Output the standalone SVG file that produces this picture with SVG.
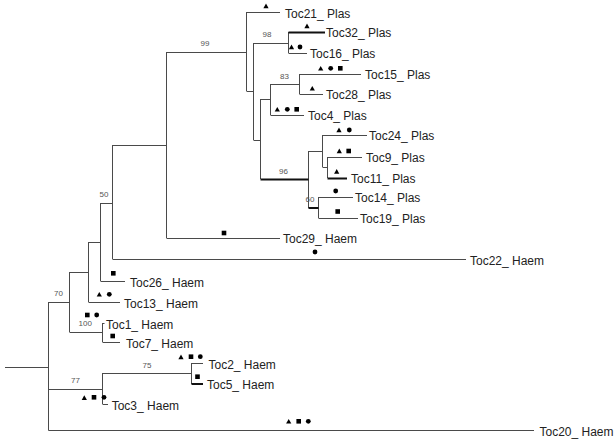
<svg xmlns="http://www.w3.org/2000/svg" width="616" height="441" viewBox="0 0 616 441">
<defs>
<style>
.e{fill:none;stroke:#4a4a4a;stroke-width:1}
.t{fill:none;stroke:#111;stroke-width:2}
.lab{font-family:"Liberation Sans",Arial,sans-serif;font-size:12px;fill:#222}
.bs{font-family:"Liberation Sans",Arial,sans-serif;font-size:8px;fill:#555;text-anchor:middle}
.m{fill:#000}
</style>
<path id="tri" class="m" d="M-2.6,2.2 L2.6,2.2 L0,-2.4 Z"/>
<rect id="sq" class="m" x="-2.3" y="-2.3" width="4.6" height="4.6"/>
<circle id="ci" class="m" r="2.4"/>
</defs>
<rect width="616" height="441" fill="#fff"/>
<g id="connectors">
<path class="e" d="M5,367.5H48.5 M48.5,302V430.5 M48.5,302.5H69.5 M69.5,272V332 M69.5,272.5H88.5 M88.5,242V302 M88.5,242.5H100.5 M100.5,203V281 M100.5,203.5H112.5 M112.5,145V259 M112.5,145.5H166.5 M166.5,52V238 M166.5,52.5H246.5 M246.5,12V91 M246.5,12.5H280 M246.5,91.5H253.5 M253.5,43V140 M253.5,43.5H288.5 M288.5,32V53 M288.5,53.5H307 M253.5,140.5H260.5 M260.5,99V179 M260.5,99.5H270.5 M270.5,84V115 M270.5,84.5H299.5 M299.5,74V94 M299.5,74.5H361 M299.5,94.5H323 M270.5,115.5H304 M308.5,151V208 M308.5,151.5H322.5 M322.5,135V167 M322.5,135.5H367 M322.5,167.5H327.5 M327.5,157V178 M327.5,157.5H362 M318.5,197V218 M318.5,197.5H353 M318.5,218.5H358 M166.5,238.5H280 M112.5,259.5H466 M100.5,281.5H125 M88.5,302.5H120 M69.5,332.5H102.5 M102.5,323V342 M102.5,323.5H104.5 M102.5,342.5H120 M48.5,389.5H102.5 M102.5,373V404 M102.5,373.5H191.5 M191.5,363V384 M191.5,363.5H203 M102.5,404.5H108 M48.5,430.5H534"/>
<path class="t" d="M288.5,32.5H325 M260.5,179.5H308.5 M327.5,178.5H347 M308.5,208H318.5 M191.5,384H203"/>
</g>
<g id="support">
<text class="bs" x="205" y="46">99</text>
<text class="bs" x="267" y="37">98</text>
<text class="bs" x="284.5" y="78.5">83</text>
<text class="bs" x="283.5" y="174">96</text>
<text class="bs" x="310" y="202">60</text>
<text class="bs" x="104" y="197">50</text>
<text class="bs" x="58.5" y="296">70</text>
<text class="bs" x="85.3" y="326">100</text>
<text class="bs" x="147" y="368">75</text>
<text class="bs" x="75.5" y="382.5">77</text>
</g>
<g id="Toc21"><use href="#tri" x="266" y="6"/><text class="lab" x="285" y="17.5">Toc21_ Plas</text></g>
<g id="Toc32"><use href="#tri" x="307" y="26"/><text class="lab" x="326" y="37">Toc32_ Plas</text></g>
<g id="Toc16"><use href="#tri" x="291.5" y="47"/><use href="#ci" x="300" y="47"/><text class="lab" x="310" y="58">Toc16_ Plas</text></g>
<g id="Toc15"><use href="#tri" x="320.7" y="68.3"/><use href="#ci" x="330.7" y="68.3"/><use href="#sq" x="340.3" y="68.3"/><text class="lab" x="365" y="79">Toc15_ Plas</text></g>
<g id="Toc28"><use href="#tri" x="312.3" y="88.3"/><text class="lab" x="326" y="99">Toc28_ Plas</text></g>
<g id="Toc4"><use href="#tri" x="277.3" y="109.3"/><use href="#ci" x="287.3" y="109.3"/><use href="#sq" x="296.7" y="109.3"/><text class="lab" x="308" y="120">Toc4_ Plas</text></g>
<g id="Toc24"><use href="#tri" x="339" y="130"/><use href="#ci" x="349.3" y="130"/><text class="lab" x="369" y="140">Toc24_ Plas</text></g>
<g id="Toc9"><use href="#tri" x="339.3" y="151"/><use href="#sq" x="348.7" y="151"/><text class="lab" x="366" y="162">Toc9_ Plas</text></g>
<g id="Toc11"><use href="#tri" x="336.7" y="171.5"/><text class="lab" x="351" y="183">Toc11_ Plas</text></g>
<g id="Toc14"><use href="#ci" x="335.7" y="191"/><text class="lab" x="355" y="202">Toc14_ Plas</text></g>
<g id="Toc19"><use href="#sq" x="337.7" y="211.5"/><text class="lab" x="360" y="223">Toc19_ Plas</text></g>
<g id="Toc29"><use href="#sq" x="224" y="233"/><text class="lab" x="283" y="243">Toc29_ Haem</text></g>
<g id="Toc22"><use href="#ci" x="315" y="252"/><text class="lab" x="470" y="264.5">Toc22_ Haem</text></g>
<g id="Toc26"><use href="#sq" x="113.3" y="273.3"/><text class="lab" x="130" y="286.5">Toc26_ Haem</text></g>
<g id="Toc13"><use href="#tri" x="99.3" y="294.3"/><use href="#ci" x="109.3" y="294.3"/><text class="lab" x="124" y="307.5">Toc13_ Haem</text></g>
<g id="Toc1"><use href="#sq" x="87.3" y="315"/><use href="#ci" x="96.7" y="315"/><text class="lab" x="106" y="328.5">Toc1_ Haem</text></g>
<g id="Toc7"><use href="#sq" x="112.7" y="336"/><text class="lab" x="126" y="347.5">Toc7_ Haem</text></g>
<g id="Toc2"><use href="#tri" x="181" y="357"/><use href="#sq" x="191" y="356.7"/><use href="#ci" x="200.3" y="356.7"/><text class="lab" x="208.5" y="368.5">Toc2_ Haem</text></g>
<g id="Toc5"><use href="#sq" x="197.5" y="376.7"/><text class="lab" x="207" y="389">Toc5_ Haem</text></g>
<g id="Toc3"><use href="#tri" x="84.3" y="397.7"/><use href="#sq" x="94" y="397.3"/><use href="#ci" x="104" y="397.3"/><text class="lab" x="111.7" y="409.5">Toc3_ Haem</text></g>
<g id="Toc20"><use href="#tri" x="288.7" y="421.3"/><use href="#sq" x="298.7" y="421.3"/><use href="#ci" x="308.3" y="421.3"/><text class="lab" x="539.5" y="435.5">Toc20_ Haem</text></g>
</svg>
